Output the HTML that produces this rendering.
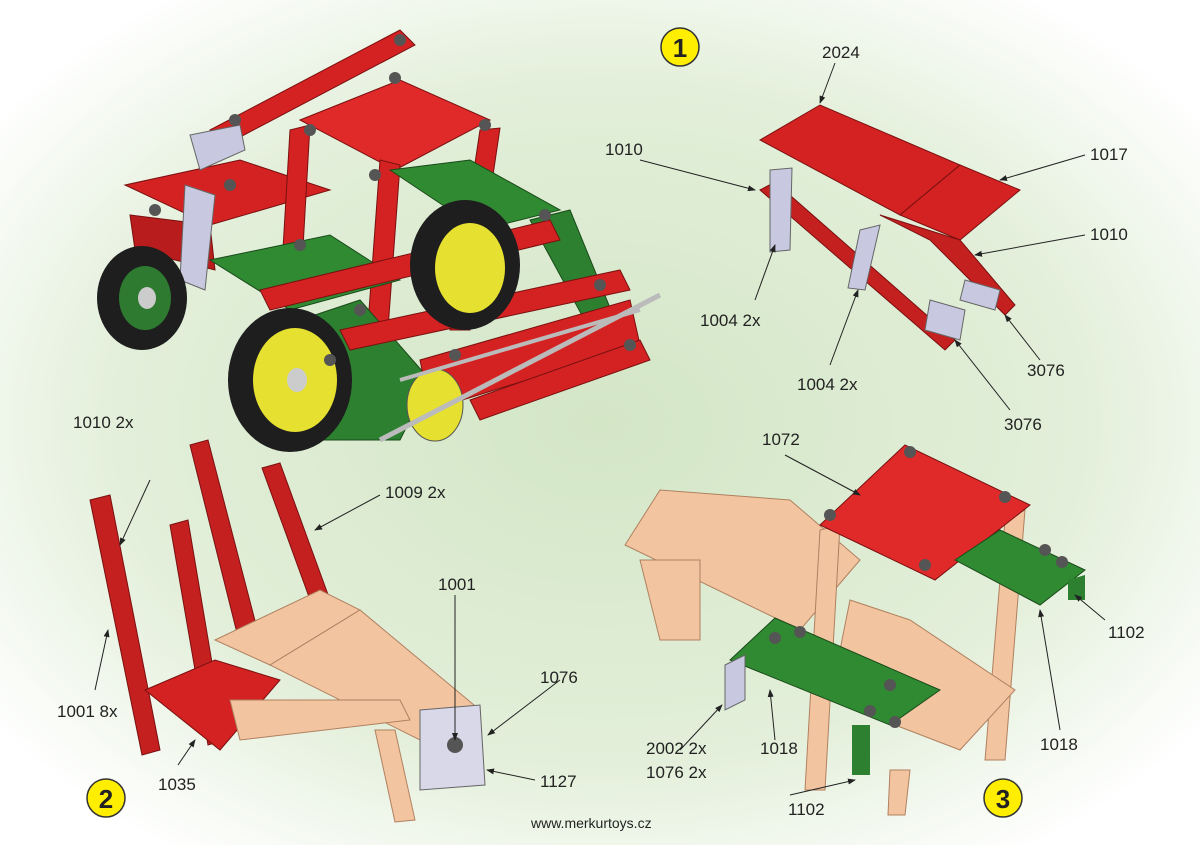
<!DOCTYPE html>
<html><head><meta charset="utf-8"><style>
html,body{margin:0;padding:0;width:1200px;height:845px;overflow:hidden;background:#fff}
svg{display:block}
text{font-family:"Liberation Sans",sans-serif;fill:#222}
</style></head><body>
<svg width="1200" height="845" viewBox="0 0 1200 845">
<defs>
<radialGradient id="bg" cx="0.5" cy="0.5" r="0.62">
<stop offset="0" stop-color="#d3e6c6"/><stop offset="0.65" stop-color="#e3efda"/><stop offset="1" stop-color="#ffffff"/>
</radialGradient>
<marker id="ar" markerWidth="8" markerHeight="8" refX="7" refY="4" orient="auto"><path d="M0,1 L8,4 L0,7 z" fill="#222"/></marker>
</defs>
<rect width="1200" height="845" fill="url(#bg)"/>

<!-- ===== Main tractor ===== -->
<g stroke="#7a1010" stroke-width="1">
<polygon points="210,130 400,30 415,45 225,145" fill="#d42222"/>
<polygon points="300,120 400,80 490,120 395,170" fill="#e02a2a"/>
<polygon points="125,185 240,160 330,190 210,225" fill="#d42222"/>
<polygon points="130,215 210,225 215,270 135,250" fill="#b81c1c"/>
<polygon points="290,130 310,125 300,300 280,300" fill="#d42222"/>
<polygon points="380,160 400,165 385,370 365,365" fill="#d42222"/>
<polygon points="480,130 500,128 470,330 450,330" fill="#d42222"/>
</g>
<g stroke="#1a4a1a" stroke-width="1">
<polygon points="390,170 470,160 560,210 480,230" fill="#2f8a32"/>
<polygon points="210,260 330,235 400,280 290,310" fill="#2f8a32"/>
<polygon points="315,315 360,300 430,380 400,440 320,440" fill="#2c8030"/>
<polygon points="530,220 570,210 615,320 590,330" fill="#2c8030"/>
</g>
<g stroke="#7a1010">
<polygon points="260,290 550,220 560,240 270,310" fill="#d42222"/>
<polygon points="340,330 620,270 630,290 350,350" fill="#d42222"/>
<polygon points="420,360 630,300 640,345 430,410" fill="#d42222"/>
<polygon points="470,400 640,340 650,360 480,420" fill="#d42222"/>
</g>
<polygon points="190,135 240,125 245,150 200,170" fill="#c8c8e0" stroke="#666"/>
<polygon points="185,185 215,195 205,290 180,280" fill="#c8c8e0" stroke="#666"/>
<!-- wheels -->
<ellipse cx="142" cy="298" rx="45" ry="52" fill="#1e1e1e"/>
<ellipse cx="145" cy="298" rx="26" ry="32" fill="#2e7a30"/>
<ellipse cx="147" cy="298" rx="9" ry="11" fill="#ccc"/>
<ellipse cx="290" cy="380" rx="62" ry="72" fill="#1e1e1e"/>
<ellipse cx="295" cy="380" rx="42" ry="52" fill="#e6e030"/>
<ellipse cx="297" cy="380" rx="10" ry="12" fill="#ccc"/>
<ellipse cx="465" cy="265" rx="55" ry="65" fill="#1e1e1e"/>
<ellipse cx="470" cy="268" rx="35" ry="45" fill="#e6e030"/>
<ellipse cx="435" cy="405" rx="28" ry="36" fill="#e6e030" stroke="#555"/>
<line x1="380" y1="440" x2="660" y2="295" stroke="#bbb" stroke-width="5"/>
<line x1="400" y1="380" x2="640" y2="310" stroke="#bbb" stroke-width="4"/>
<!-- bolts on tractor -->
<g fill="#555">
<circle cx="400" cy="40" r="6"/><circle cx="235" cy="120" r="6"/><circle cx="395" cy="78" r="6"/><circle cx="485" cy="125" r="6"/><circle cx="310" cy="130" r="6"/>
<circle cx="155" cy="210" r="6"/><circle cx="230" cy="185" r="6"/><circle cx="300" cy="245" r="6"/><circle cx="375" cy="175" r="6"/><circle cx="545" cy="215" r="6"/>
<circle cx="360" cy="310" r="6"/><circle cx="600" cy="285" r="6"/><circle cx="455" cy="355" r="6"/><circle cx="630" cy="345" r="6"/><circle cx="330" cy="360" r="6"/>
</g>

<!-- ===== Step 1 ===== -->
<g stroke="#7a1010">
<polygon points="760,140 820,105 960,165 900,215" fill="#d42222"/>
<polygon points="900,215 960,165 1020,190 960,240" fill="#d42222"/>
<polygon points="880,215 960,240 1015,305 1005,315 930,240" fill="#c42020"/>
<polygon points="760,190 775,182 955,340 945,350" fill="#c42020"/>
</g>
<polygon points="770,170 792,168 790,250 770,252" fill="#c8c8e0" stroke="#666"/>
<polygon points="860,230 880,225 865,290 848,288" fill="#c8c8e0" stroke="#666"/>
<polygon points="930,300 965,310 960,340 925,330" fill="#c8c8e0" stroke="#666"/>
<polygon points="965,280 1000,290 995,310 960,300" fill="#c8c8e0" stroke="#666"/>

<!-- ===== Step 2 ===== -->
<g stroke="#7a1010">
<polygon points="90,500 110,495 160,750 142,755" fill="#c42020"/>
<polygon points="170,525 188,520 225,740 208,745" fill="#c42020"/>
<polygon points="190,445 208,440 260,640 240,645" fill="#c42020"/>
<polygon points="262,468 280,463 330,600 312,605" fill="#c42020"/>
<polygon points="145,690 215,660 280,680 220,750" fill="#d42222"/>
</g>
<g stroke="#b08060" fill="#f2c4a0">
<polygon points="215,640 320,590 360,610 270,665" />
<polygon points="270,665 360,610 480,710 420,740" />
<polygon points="230,700 400,700 410,720 240,740"/>
<polygon points="375,730 395,730 415,820 395,822"/>
</g>
<polygon points="420,710 480,705 485,785 420,790" fill="#d8d8e8" stroke="#666"/>
<circle cx="455" cy="745" r="8" fill="#555"/>

<!-- ===== Step 3 ===== -->
<g stroke="#b08060" fill="#f2c4a0">
<polygon points="625,545 660,490 790,500 860,560 800,630" />
<polygon points="640,560 700,560 700,640 660,640"/>
<polygon points="820,530 840,525 825,790 805,790"/>
<polygon points="1005,520 1025,510 1005,760 985,760"/>
<polygon points="850,600 910,620 1015,690 960,750 830,700"/>
<polygon points="890,770 910,770 905,815 888,815"/>
</g>
<polygon points="820,525 905,445 1030,505 935,580" fill="#e02a2a" stroke="#7a1010"/>
<polygon points="955,560 1000,530 1085,570 1040,605" fill="#2f8a32" stroke="#1a4a1a"/>
<polygon points="730,660 775,618 940,690 890,725" fill="#2f8a32" stroke="#1a4a1a"/>
<polygon points="852,725 870,725 870,775 852,775" fill="#2c8030"/>
<polygon points="1068,580 1085,575 1085,600 1068,600" fill="#2c8030"/>
<polygon points="725,665 745,655 745,700 725,710" fill="#c8c8e0" stroke="#666"/>
<g fill="#555">
<circle cx="910" cy="452" r="6"/><circle cx="830" cy="515" r="6"/><circle cx="1005" cy="497" r="6"/><circle cx="925" cy="565" r="6"/>
<circle cx="775" cy="638" r="6"/><circle cx="800" cy="632" r="6"/><circle cx="890" cy="685" r="6"/><circle cx="870" cy="711" r="6"/><circle cx="895" cy="722" r="6"/>
<circle cx="1045" cy="550" r="6"/><circle cx="1062" cy="562" r="6"/>
</g>

<!-- ===== Labels & arrows ===== -->
<g stroke="#222" stroke-width="1" fill="none" marker-end="url(#ar)">
<line x1="835" y1="63" x2="820" y2="103"/>
<line x1="640" y1="160" x2="755" y2="190"/>
<line x1="1085" y1="155" x2="1000" y2="180"/>
<line x1="1085" y1="235" x2="975" y2="255"/>
<line x1="755" y1="300" x2="775" y2="245"/>
<line x1="830" y1="365" x2="858" y2="290"/>
<line x1="1040" y1="360" x2="1005" y2="315"/>
<line x1="1010" y1="410" x2="955" y2="340"/>
<line x1="785" y1="455" x2="860" y2="495"/>
<line x1="1105" y1="620" x2="1075" y2="595"/>
<line x1="1060" y1="730" x2="1040" y2="610"/>
<line x1="680" y1="750" x2="722" y2="705"/>
<line x1="775" y1="740" x2="770" y2="690"/>
<line x1="790" y1="795" x2="855" y2="780"/>
<line x1="150" y1="480" x2="120" y2="545"/>
<line x1="380" y1="495" x2="315" y2="530"/>
<line x1="455" y1="595" x2="455" y2="740"/>
<line x1="560" y1="680" x2="488" y2="735"/>
<line x1="535" y1="780" x2="487" y2="770"/>
<line x1="95" y1="690" x2="108" y2="630"/>
<line x1="178" y1="765" x2="195" y2="740"/>
</g>
<g font-size="17">
<text x="822" y="58">2024</text>
<text x="605" y="155" fill="#666">1010</text>
<text x="1090" y="160">1017</text>
<text x="1090" y="240">1010</text>
<text x="700" y="326">1004 2x</text>
<text x="797" y="390">1004 2x</text>
<text x="1027" y="376">3076</text>
<text x="1004" y="430">3076</text>
<text x="762" y="445">1072</text>
<text x="1108" y="638">1102</text>
<text x="1040" y="750">1018</text>
<text x="646" y="754">2002 2x</text>
<text x="646" y="778">1076 2x</text>
<text x="760" y="754">1018</text>
<text x="788" y="815">1102</text>
<text x="73" y="428" fill="#666">1010 2x</text>
<text x="385" y="498" fill="#666">1009 2x</text>
<text x="438" y="590">1001</text>
<text x="540" y="683">1076</text>
<text x="540" y="787">1127</text>
<text x="57" y="717">1001 8x</text>
<text x="158" y="790">1035</text>
</g>
<text x="531" y="828" font-size="14">www.merkurtoys.cz</text>
<g stroke="#333" stroke-width="1.5" fill="#ffee00">
<circle cx="680" cy="47" r="19"/><circle cx="106" cy="798" r="19"/><circle cx="1003" cy="798" r="19"/>
</g>
<g font-size="26" font-weight="bold" text-anchor="middle">
<text x="680" y="57">1</text><text x="106" y="808">2</text><text x="1003" y="808">3</text>
</g>
</svg>
</body></html>
